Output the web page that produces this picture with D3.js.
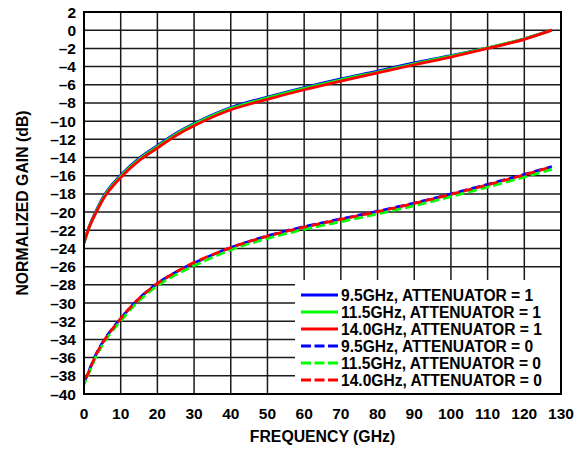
<!DOCTYPE html>
<html>
<head>
<meta charset="utf-8">
<script src="https://cdn.jsdelivr.net/npm/d3@7"></script>
<style>
  html, body { margin: 0; padding: 0; background: #fff; }
  svg text { font-family: "Liberation Sans", Arial, sans-serif; font-weight: bold; fill: #000; }
</style>
</head>
<body>
<svg id="chart" width="582" height="452"></svg>
<script>
// Frequency sweep points (GHz)
const freq = [0, 1.5, 3.5, 6, 10, 15, 20, 25, 30, 40, 50, 60, 70, 80, 90, 100, 110, 120, 127.5];

// Normalized gain (dB), attenuator = 1
const gain95Att1  = [-23.35, -21.5, -19.7, -17.85, -15.95, -14.1, -12.7, -11.35, -10.25, -8.5, -7.35, -6.3, -5.35, -4.5, -3.6, -2.8, -1.95, -0.95, 0];
const gain115Att1 = [-23.4, -21.55, -19.8, -17.95, -16.05, -14.2, -12.8, -11.45, -10.35, -8.6, -7.45, -6.4, -5.45, -4.6, -3.7, -2.85, -1.95, -0.95, 0];
const gain140Att1 = [-23.4, -21.6, -19.9, -18.1, -16.2, -14.35, -12.95, -11.6, -10.5, -8.75, -7.6, -6.55, -5.6, -4.7, -3.8, -2.95, -2.0, -1.0, 0];

// Normalized gain (dB), attenuator = 0
const gain95Att0  = [-38.75, -37.3, -35.45, -33.75, -31.7, -29.5, -27.85, -26.6, -25.6, -23.9, -22.6, -21.6, -20.75, -19.9, -19.0, -18.0, -16.95, -15.85, -15.0];
const gain115Att0 = [-38.95, -37.55, -35.7, -34.0, -31.95, -29.75, -28.1, -26.9, -25.9, -24.15, -22.9, -21.9, -21.05, -20.2, -19.3, -18.3, -17.25, -16.15, -15.3];
const gain140Att0 = [-38.8, -37.35, -35.5, -33.8, -31.7, -29.5, -27.85, -26.6, -25.55, -23.9, -22.65, -21.65, -20.8, -19.95, -19.05, -18.05, -17.0, -15.9, -15.0];

// Axis ticks
const xTicks = d3.range(0, 131, 10);
const yTicks = d3.range(-40, 3, 2);

const seriesNames = [
  "9.5GHz, ATTENUATOR = 1",
  "11.5GHz, ATTENUATOR = 1",
  "14.0GHz, ATTENUATOR = 1",
  "9.5GHz, ATTENUATOR = 0",
  "11.5GHz, ATTENUATOR = 0",
  "14.0GHz, ATTENUATOR = 0"
];
const seriesValues = [gain95Att1, gain115Att1, gain140Att1, gain95Att0, gain115Att0, gain140Att0];
const seriesColors = ["#0000ff", "#00ff00", "#ff0000", "#0000ff", "#00ff00", "#ff0000"];
const seriesDashed = [false, false, false, true, true, true];

const svg = d3.select("#chart");
const plot = { left: 84, right: 561, top: 12, bottom: 394 };

const x = d3.scaleLinear().domain([0, 130]).range([plot.left, plot.right]);
const y = d3.scaleLinear().domain([-40, 2]).range([plot.bottom, plot.top]);

// Grid
const grid = svg.append("g");
grid.selectAll("line.v").data(xTicks.slice(1, -1)).join("line")
  .attr("x1", d => x(d)).attr("x2", d => x(d))
  .attr("y1", plot.top).attr("y2", plot.bottom)
  .attr("stroke", "#1a1a1a").attr("stroke-width", 1.5);
grid.selectAll("line.h").data(yTicks.slice(1, -1)).join("line")
  .attr("x1", plot.left).attr("x2", plot.right)
  .attr("y1", d => y(d)).attr("y2", d => y(d))
  .attr("stroke", "#1a1a1a").attr("stroke-width", 1.5);

// Curves
svg.append("clipPath").attr("id", "clip").append("rect")
  .attr("x", plot.left).attr("y", plot.top)
  .attr("width", plot.right - plot.left).attr("height", plot.bottom - plot.top);

const line = d3.line()
  .x(d => x(d[0]))
  .y(d => y(d[1]))
  .curve(d3.curveCatmullRom.alpha(0.5));

const curves = svg.append("g").attr("clip-path", "url(#clip)");
const dashOffsets = [0, 4, 8];
seriesValues.forEach((vals, i) => {
  const pts = freq.map((f, k) => [f, vals[k]]);
  curves.append("path")
    .attr("d", line(pts))
    .attr("fill", "none")
    .attr("stroke", seriesColors[i])
    .attr("stroke-width", 2.8)
    .attr("stroke-dasharray", seriesDashed[i] ? "9,4" : null)
    .attr("stroke-dashoffset", seriesDashed[i] ? dashOffsets[i % 3] : null);
});

// Legend
const legend = svg.append("g");
legend.append("rect")
  .attr("x", 295).attr("y", 280)
  .attr("width", plot.right - 295).attr("height", plot.bottom - 280)
  .attr("fill", "#fff");
const rowY = d3.scaleLinear().domain([0, 5]).range([295, 380]);
seriesNames.forEach((name, i) => {
  const cy = rowY(i);
  legend.append("line")
    .attr("x1", 301).attr("x2", 338)
    .attr("y1", cy).attr("y2", cy)
    .attr("stroke", seriesColors[i])
    .attr("stroke-width", 2.8)
    .attr("stroke-dasharray", seriesDashed[i] ? "10,3.5" : null);
  legend.append("text")
    .attr("x", 341).attr("y", cy + 5.6)
    .attr("font-size", 15.6)
    .text(name);
});

// Frame
svg.append("rect")
  .attr("x", plot.left).attr("y", plot.top)
  .attr("width", plot.right - plot.left).attr("height", plot.bottom - plot.top)
  .attr("fill", "none").attr("stroke", "#000").attr("stroke-width", 2);

// Tick labels
const fmt = d => d < 0 ? "\u2013" + Math.abs(d) : String(d);
svg.append("g").selectAll("text").data(yTicks).join("text")
  .attr("x", 76).attr("y", d => y(d) + 5.5)
  .attr("text-anchor", "end").attr("font-size", 15.5)
  .text(fmt);
svg.append("g").selectAll("text").data(xTicks).join("text")
  .attr("x", d => x(d)).attr("y", 418.5)
  .attr("text-anchor", "middle").attr("font-size", 15.5)
  .text(d => d);

// Axis titles
svg.append("text")
  .attr("x", (plot.left + plot.right) / 2).attr("y", 441.5)
  .attr("text-anchor", "middle").attr("font-size", 15.8)
  .text("FREQUENCY (GHz)");
svg.append("text")
  .attr("transform", `translate(28, ${(plot.top + plot.bottom) / 2}) rotate(-90)`)
  .attr("text-anchor", "middle").attr("font-size", 15.8)
  .text("NORMALIZED GAIN (dB)");
</script>
</body>
</html>
